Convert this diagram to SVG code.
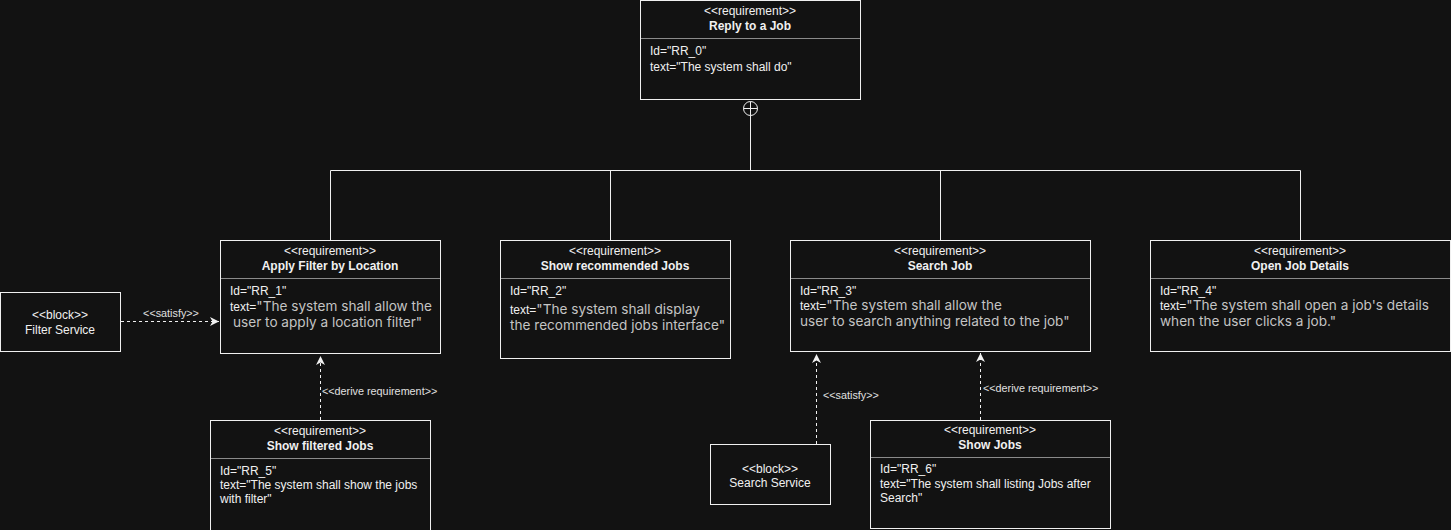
<svg xmlns="http://www.w3.org/2000/svg" width="1451" height="530" viewBox="0 0 1451 530">
<style>
.box{fill:#121212;stroke:#f0f0f0;stroke-width:1}
.div{stroke:#8a8a8a;stroke-width:1}
.t{font-family:"Liberation Sans",Arial,sans-serif;font-size:12px;fill:#f0f0f0}
.c{text-anchor:middle}
.b{font-weight:bold}
.g{font-family:Inter,"Noto Sans",sans-serif;font-size:13.6px;fill:#c4c4c4}
.ln{stroke:#f0f0f0;stroke-width:1;fill:none}
.dash{stroke:#f0f0f0;stroke-width:1;fill:none;stroke-dasharray:3 3}
.lbl{font-family:"Liberation Sans",Arial,sans-serif;font-size:10.8px;fill:#e0e0e0}
</style>
<defs>
<marker id="ah" markerWidth="10" markerHeight="10" refX="9" refY="5" orient="auto" markerUnits="userSpaceOnUse">
<path d="M0,0.5 L9,5 L0,9.5 L2.5,5 Z" fill="#f0f0f0"/>
</marker>
</defs>
<rect width="1451" height="530" fill="#121212"/>
<g id="connectors">
<circle cx="750.5" cy="108.5" r="7" class="ln"/>
<path class="ln" d="M743.5,108.5 H757.5 M750.5,101.5 V170.5 M330.5,170.5 H1300.5 M330.5,170.5 V240 M610.5,170.5 V240 M940.5,170.5 V240 M1300.5,170.5 V240"/>
<path class="dash" d="M121,321.5 H219" marker-end="url(#ah)"/>
<text class="lbl c" x="171" y="317">&lt;&lt;satisfy&gt;&gt;</text>
<path class="dash" d="M320.5,420 V356" marker-end="url(#ah)"/>
<text class="lbl" x="322" y="395">&lt;&lt;derive requirement&gt;&gt;</text>
<path class="dash" d="M816.5,444 V354" marker-end="url(#ah)"/>
<text class="lbl" x="823" y="399">&lt;&lt;satisfy&gt;&gt;</text>
<path class="dash" d="M980.5,420 V353" marker-end="url(#ah)"/>
<text class="lbl" x="983" y="392">&lt;&lt;derive requirement&gt;&gt;</text>
</g>
<g id="RR_0">
<rect class="box" x="640.5" y="0.5" width="220" height="99"/>
<line class="div" x1="641" y1="38.5" x2="860" y2="38.5"/>
<text class="t c" x="750" y="15">&lt;&lt;requirement&gt;&gt;</text>
<text class="t c b" x="750" y="30">Reply to a Job</text>
<text class="t" x="650" y="55">Id="RR_0"</text>
<text class="t" x="650" y="71">text="The system shall do"</text>
</g>
<g id="RR_1">
<rect class="box" x="220.5" y="240.5" width="220" height="113"/>
<line class="div" x1="221" y1="278.5" x2="440" y2="278.5"/>
<text class="t c" x="330" y="255">&lt;&lt;requirement&gt;&gt;</text>
<text class="t c b" x="330" y="270">Apply Filter by Location</text>
<text class="t" x="230" y="295">Id="RR_1"</text>
<text class="t" x="230" y="311">text=<tspan class="g">"The system shall allow the</tspan></text>
<text class="g" x="233" y="327">user to apply a location filter"</text>
</g>
<g id="RR_2">
<rect class="box" x="500.5" y="240.5" width="230" height="118"/>
<line class="div" x1="501" y1="278.5" x2="730" y2="278.5"/>
<text class="t c" x="615" y="255">&lt;&lt;requirement&gt;&gt;</text>
<text class="t c b" x="615" y="270">Show recommended Jobs</text>
<text class="t" x="510" y="295">Id="RR_2"</text>
<text class="t" x="510" y="314">text=<tspan class="g">"The system shall display</tspan></text>
<text class="g" x="510" y="330">the recommended jobs interface"</text>
</g>
<g id="RR_3">
<rect class="box" x="790.5" y="240.5" width="300" height="111"/>
<line class="div" x1="791" y1="278.5" x2="1090" y2="278.5"/>
<text class="t c" x="940" y="255">&lt;&lt;requirement&gt;&gt;</text>
<text class="t c b" x="940" y="270">Search Job</text>
<text class="t" x="800" y="295">Id="RR_3"</text>
<text class="t" x="800" y="310">text=<tspan class="g">"The system shall allow the</tspan></text>
<text class="g" x="800" y="326">user to search anything related to the job"</text>
</g>
<g id="RR_4">
<rect class="box" x="1150.5" y="240.5" width="300" height="111"/>
<line class="div" x1="1151" y1="278.5" x2="1450" y2="278.5"/>
<text class="t c" x="1300" y="255">&lt;&lt;requirement&gt;&gt;</text>
<text class="t c b" x="1300" y="270">Open Job Details</text>
<text class="t" x="1160" y="295">Id="RR_4"</text>
<text class="t" x="1160" y="310">text=<tspan class="g">"The system shall open a job's details</tspan></text>
<text class="g" x="1160" y="326">when the user clicks a job."</text>
</g>
<g id="FilterService">
<rect class="box" x="0.5" y="292.5" width="120" height="59"/>
<text class="t c" x="60" y="319">&lt;&lt;block&gt;&gt;</text>
<text class="t c" x="60" y="334">Filter Service</text>
</g>
<g id="RR_5">
<rect class="box" x="210.5" y="420.5" width="220" height="112"/>
<line class="div" x1="211" y1="458.5" x2="430" y2="458.5"/>
<text class="t c" x="320" y="435">&lt;&lt;requirement&gt;&gt;</text>
<text class="t c b" x="320" y="450">Show filtered Jobs</text>
<text class="t" x="220" y="475">Id="RR_5"</text>
<text class="t" x="220" y="489">text="The system shall show the jobs</text>
<text class="t" x="220" y="503">with filter"</text>
</g>
<g id="SearchService">
<rect class="box" x="710.5" y="444.5" width="120" height="60"/>
<text class="t c" x="770" y="473">&lt;&lt;block&gt;&gt;</text>
<text class="t c" x="770" y="487">Search Service</text>
</g>
<g id="RR_6">
<rect class="box" x="870.5" y="420.5" width="240" height="108"/>
<line class="div" x1="871" y1="457.5" x2="1110" y2="457.5"/>
<text class="t c" x="990" y="434">&lt;&lt;requirement&gt;&gt;</text>
<text class="t c b" x="990" y="449">Show Jobs</text>
<text class="t" x="880" y="473">Id="RR_6"</text>
<text class="t" x="880" y="488">text="The system shall listing Jobs after</text>
<text class="t" x="880" y="502">Search"</text>
</g>
</svg>
